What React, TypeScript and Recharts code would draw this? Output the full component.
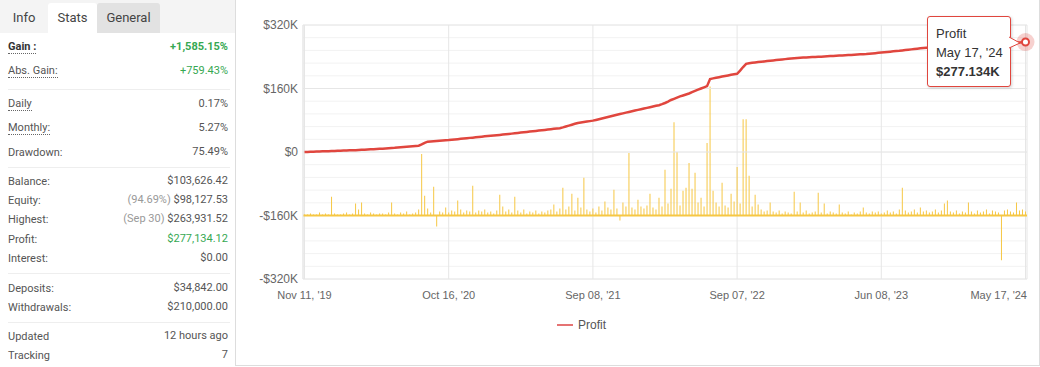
import {
  ComposedChart, Line, Bar, XAxis, YAxis, CartesianGrid, Tooltip, ReferenceLine,
} from 'recharts'

// x axis: one point per sample, labels only at these indices
const xTickIdx = [0, 48, 96, 144, 192, 240]
const xTickLabels = ["Nov 11, '19", "Oct 16, '20", "Sep 08, '21", "Sep 07, '22", "Jun 08, '23", "May 17, '24"]

const yMajorTicks = [-320, -160, 0, 160, 320]
const yGridTicks = [
  -320, -288, -256, -224, -192, -160, -128, -96, -64, -32, 0,
  32, 64, 96, 128, 160, 192, 224, 256, 288, 320,
]

// cumulative profit, $K
const profit = [
  0, 0.3, 0.5, 0.8, 1, 1.3, 1.6, 1.9, 2.1, 2.4, 2.7, 3, 3.2, 3.5, 3.8, 4.1, 4.4, 4.7, 5,
  5.4, 5.9, 6.3, 6.8, 7.2, 7.6, 8.1, 8.5, 9.0, 9.5, 10.1, 10.6, 11.3, 12,
  12.6, 13.2, 13.8, 14.5, 15.2, 16,
  19, 23, 26,
  26.6, 27.2, 27.8, 28.3, 28.9, 29.4, 30,
  30.8, 31.6, 32.4, 33.3, 34.1, 34.9, 35.6, 36.2, 36.9, 37.7, 38.6, 39.4, 40.2, 40.9, 41.5, 42.2, 43,
  43.8, 44.6, 45.4, 46.3, 47.1, 48.0, 48.9, 49.8, 50.6, 51.4, 52.2, 53.0, 53.9, 54.8, 55.7, 56.6, 57.5, 58.3, 59.2, 60,
  62, 64.3, 66.5, 68.8, 71, 73,
  74.2, 75.4, 76.6, 77.8, 79,
  80.8, 82.6, 84.5, 86.3, 88.2, 90.0, 91.9, 93.7, 95.6, 97.4, 99.2, 101,
  102.7, 104.4, 106.1, 107.8, 109.5, 111.2, 112.9, 114.6, 116.3, 118,
  120.5, 123.5, 127, 131, 134,
  137, 140, 142.5, 145, 147.5, 151, 154,
  157, 160, 163, 166,
  184,
  185.5, 187, 188.5, 190, 191.5, 193, 194.5, 195.8, 197,
  205, 214, 222,
  223.5, 224.8, 225.8, 226.7, 227.5, 228.3, 229.2, 230,
  230.8, 231.6, 232.4, 233.2, 234, 234.8, 235.6, 236.3, 237,
  237.4, 237.9, 238.3, 238.7, 239.1, 239.5, 239.9, 240.3, 240.7, 241.1, 241.6, 242,
  242.5, 243, 243.4, 243.9, 244.3, 244.7, 245.2, 245.6, 246.1, 246.5, 247,
  247.7, 248.4, 249.1, 249.9, 250.6, 251.3, 252.1, 252.8, 253.6, 254.3, 255,
  255.9, 256.8, 257.7, 258.6, 259.5, 260.4, 261.2, 262,
  262.4, 262.8, 263.2, 263.6, 264, 264.4, 264.8, 265.2, 265.6, 266, 266.4, 266.8, 267.2,
  267.6, 268, 268.4, 268.8, 269.2, 269.6, 270, 270.4, 270.8, 271.2, 271.6, 272,
  272.6, 273.2, 273.8, 274.4, 275, 275.6, 276.2, 276.7, 277.134,
]

// daily result, drawn on its own hidden axis
const daily = [
  1, 1, 2, 1, 1, 3, 1, 2, 1, 19,
  2, 1, 1, 2, 3, 1, 2, 12, 6, 13,
  2, 1, 3, 2, 1, 2, 2, 1, 3, 13,
  2, 1, 3, 2, 4, 1, 2, 3, 6, 62,
  20, 7, 3, 29, -11, 4, 3, 8, 3, 5,
  4, 15, 6, 3, 5, 4, 30, 3, 5, 4,
  6, 3, 4, 2, 5, 21, 9, 4, 6, 3,
  19, 5, 3, 6, 2, 4, 3, 5, 2, 4,
  3, 5, 6, 11, 4, 7, 28, 6, 9, 22,
  5, 18, 8, 38, 6, 4, 7, 3, 9, 5,
  14, 8, 6, 26, 7, -5, 13, 9, 63, 8,
  6, 16, 9, 7, 10, 22, 8, 6, 18, 9,
  46, 12, 27, 94, 64, 10, 25, 28, 53, 27,
  43, 13, 18, 9, 73, 130, 25, 13, 9, 33,
  10, 8, 22, 14, 49, 12, 97, 97, 40, 9,
  21, 11, 6, 4, 5, 13, 4, 3, 5, 2,
  4, 3, 2, 24, 4, 13, 3, 5, 2, 3,
  4, 23, 3, 12, 2, 4, 3, 2, 11, 3,
  2, 4, 1, 3, 2, 4, 8, 3, 2, 4,
  3, 4, 2, 3, 5, 3, 4, 2, 6, 28,
  5, 3, 4, 6, 3, 8, 4, 5, 3, 4,
  6, 3, 5, 12, 15, 4, 3, 5, 2, 4,
  3, 13, 4, 2, 5, 3, 4, 6, 2, 5,
  4, 3, -45, 5, 6, 4, 3, 13, 5, 6,
  4,
]

const data = profit.map((p, i) => ({ i, profit: p, daily: daily[i] }))

const RED = '#e0463e'
const YELLOW = '#f6c744'
const GREEN = '#36a852'

const tabs = [
  { label: 'Info', bg: '#f4f4f4', w: 48 },
  { label: 'Stats', bg: '#fff', w: 49 },
  { label: 'General', bg: '#e2e2e2', w: 63 },
]

interface Row {
  label: string
  value: string
  y: number
  note?: string
  green?: boolean
  bold?: boolean
  dotted?: boolean
}

const rows: Row[] = [
  { label: 'Gain :', value: '+1,585.15%', y: 47, green: true, bold: true, dotted: true },
  { label: 'Abs. Gain:', value: '+759.43%', y: 71, green: true, dotted: true },
  { label: 'Daily', value: '0.17%', y: 104, dotted: true },
  { label: 'Monthly:', value: '5.27%', y: 128, dotted: true },
  { label: 'Drawdown:', value: '75.49%', y: 152 },
  { label: 'Balance:', value: '$103,626.42', y: 181 },
  { label: 'Equity:', value: '$98,127.53', note: '(94.69%)', y: 200 },
  { label: 'Highest:', value: '$263,931.52', note: '(Sep 30)', y: 219 },
  { label: 'Profit:', value: '$277,134.12', y: 239, green: true },
  { label: 'Interest:', value: '$0.00', y: 258 },
  { label: 'Deposits:', value: '$34,842.00', y: 288 },
  { label: 'Withdrawals:', value: '$210,000.00', y: 307 },
  { label: 'Updated', value: '12 hours ago', y: 336 },
  { label: 'Tracking', value: '7', y: 355 },
]
const separators = [89, 167, 273, 322]

function fmtY(v: number) {
  if (!yMajorTicks.includes(v)) return ''
  if (v === 0) return '$0'
  return (v < 0 ? '-' : '') + '$' + Math.abs(v) + 'K'
}

function XTick({ x, y, payload }: any) {
  const k = xTickIdx.indexOf(payload.value)
  const last = k === xTickIdx.length - 1
  return (
    <text
      x={last ? x + 1.5 : x}
      y={y + 20}
      textAnchor={last ? 'end' : 'middle'}
      fill="#666"
      fontSize={11}
    >
      {xTickLabels[k]}
    </text>
  )
}

function ProfitTooltip({ active, payload, label }: any) {
  if (!active || !payload?.length) return null
  const p = payload.find((e: any) => e.dataKey === 'profit')
  if (!p) return null
  const k = xTickIdx.indexOf(label)
  return (
    <div style={{
      position: 'relative', width: 84, height: 71, boxSizing: 'border-box',
      background: '#fff', border: `1px solid ${RED}`, borderRadius: 3,
      boxShadow: '1px 1px 3px rgba(0,0,0,0.18)', padding: '7px 0 0 8px',
      fontSize: 13, lineHeight: '19px', color: '#333',
    }}>
      <div>Profit</div>
      <div>{k >= 0 ? xTickLabels[k] : label}</div>
      <div style={{ fontWeight: 700 }}>${p.value.toFixed(3)}K</div>
      <svg width={14} height={14} style={{ position: 'absolute', right: -13, top: 19, overflow: 'visible' }}>
        <path d="M0 1 L11 7 L0 12" fill="#fff" stroke={RED} strokeWidth={1} />
      </svg>
    </div>
  )
}

function ActiveDot(props: any) {
  const { cx, cy } = props
  return (
    <g>
      <circle cx={cx} cy={cy} r={9} fill={RED} fillOpacity={0.25} />
      <circle cx={cx} cy={cy} r={3.5} fill="#fff" stroke={RED} strokeWidth={2} />
    </g>
  )
}

function StatsPanel() {
  return (
    <div style={{ position: 'absolute', left: 0, top: 0, width: 235, height: 367, fontFamily: 'Roboto, sans-serif' }}>
      <div style={{ position: 'absolute', left: 0, top: 0, width: 235, height: 33, background: '#f4f4f4' }} />
      {tabs.map((t, n) => {
        const left = tabs.slice(0, n).reduce((s, q) => s + q.w, 0)
        return (
          <div key={t.label} style={{
            position: 'absolute', left, top: 3, width: t.w, height: 30, background: t.bg,
            borderRadius: '3px 3px 0 0', textAlign: 'center', lineHeight: '30px',
            fontSize: 13, color: '#444',
          }}>
            {t.label}
          </div>
        )
      })}
      {separators.map(y => (
        <div key={y} style={{ position: 'absolute', left: 8, top: y, width: 222, height: 1, background: '#eee' }} />
      ))}
      {rows.map(r => (
        <div key={r.label} style={{
          position: 'absolute', left: 8, top: r.y - 8, width: 220, height: 16,
          lineHeight: '16px', fontSize: 11, color: '#555', display: 'flex', justifyContent: 'space-between',
        }}>
          <span style={{
            borderBottom: r.dotted ? '1px dotted #666' : 'none',
            lineHeight: '13px', alignSelf: 'center',
            fontWeight: r.bold ? 700 : 400, color: r.bold ? '#333' : '#555',
          }}>
            {r.label}
          </span>
          <span style={{ color: r.green ? GREEN : '#555', fontWeight: r.bold ? 700 : 400 }}>
            {r.note && <span style={{ color: '#999' }}>{r.note} </span>}
            {r.value}
          </span>
        </div>
      ))}
    </div>
  )
}

export default function App() {
  return (
    <div style={{ position: 'relative', width: 1040, height: 367, background: '#fff', overflow: 'hidden' }}>
      <style>{'body{margin:0}'}</style>
      <StatsPanel />
      <div style={{
        position: 'absolute', left: 235, top: 0, width: 803, height: 365,
        borderLeft: '1px solid #ddd', borderRight: '1px solid #ddd', borderBottom: '1px solid #ddd',
      }} />
      <div style={{ position: 'absolute', left: 236, top: 0, width: 804, height: 367, fontFamily: '"Liberation Sans", Arial, sans-serif' }}>
        <ComposedChart
          width={804}
          height={367}
          data={data}
          margin={{ top: 25, right: 13, bottom: 58, left: 0 }}
        >
          <CartesianGrid yAxisId="left" horizontal vertical={false} stroke="#f2f2f2" />
          <CartesianGrid yAxisId="left" horizontal={false} vertical stroke="#e6e6e6" />
          <XAxis
            dataKey="i"
            type="category"
            ticks={xTickIdx}
            interval={0}
            tick={<XTick />}
            tickLine={false}
            axisLine={false}
            tickSize={0}
            tickMargin={0}
            height={30}
          />
          <YAxis
            yAxisId="left"
            domain={[-320, 320]}
            ticks={yGridTicks}
            interval={0}
            tickFormatter={fmtY}
            tick={{ fontSize: 12, fill: '#666' }}
            tickLine={false}
            tickSize={5}
            tickMargin={0}
            axisLine={{ stroke: '#e6e6e6' }}
            width={67}
          />
          <YAxis yAxisId="d" orientation="right" domain={[-64, 192]} hide />
          {yMajorTicks.map(v => (
            <ReferenceLine key={v} yAxisId="left" y={v} stroke="#e6e6e6" />
          ))}
          <ReferenceLine yAxisId="d" y={0} stroke={YELLOW} strokeWidth={2} />
          <Bar
            yAxisId="d"
            dataKey="daily"
            fill={YELLOW}
            barSize={1}
            activeBar={false}
            isAnimationActive={false}
          />
          <Line
            yAxisId="left"
            dataKey="profit"
            type="linear"
            stroke={RED}
            strokeWidth={2.5}
            dot={false}
            activeDot={<ActiveDot />}
            isAnimationActive={false}
          />
          <Tooltip
            content={<ProfitTooltip />}
            defaultIndex={240}
            active
            cursor={false}
            position={{ x: 691, y: 16 }}
            isAnimationActive={false}
            wrapperStyle={{ outline: 'none' }}
          />
        </ComposedChart>
        <div style={{ position: 'absolute', left: 321, top: 317, height: 16, display: 'flex', alignItems: 'center', gap: 5 }}>
          <span style={{ width: 16, height: 2, background: '#e57373' }} />
          <span style={{ fontSize: 12, color: '#555' }}>Profit</span>
        </div>
      </div>
    </div>
  )
}
